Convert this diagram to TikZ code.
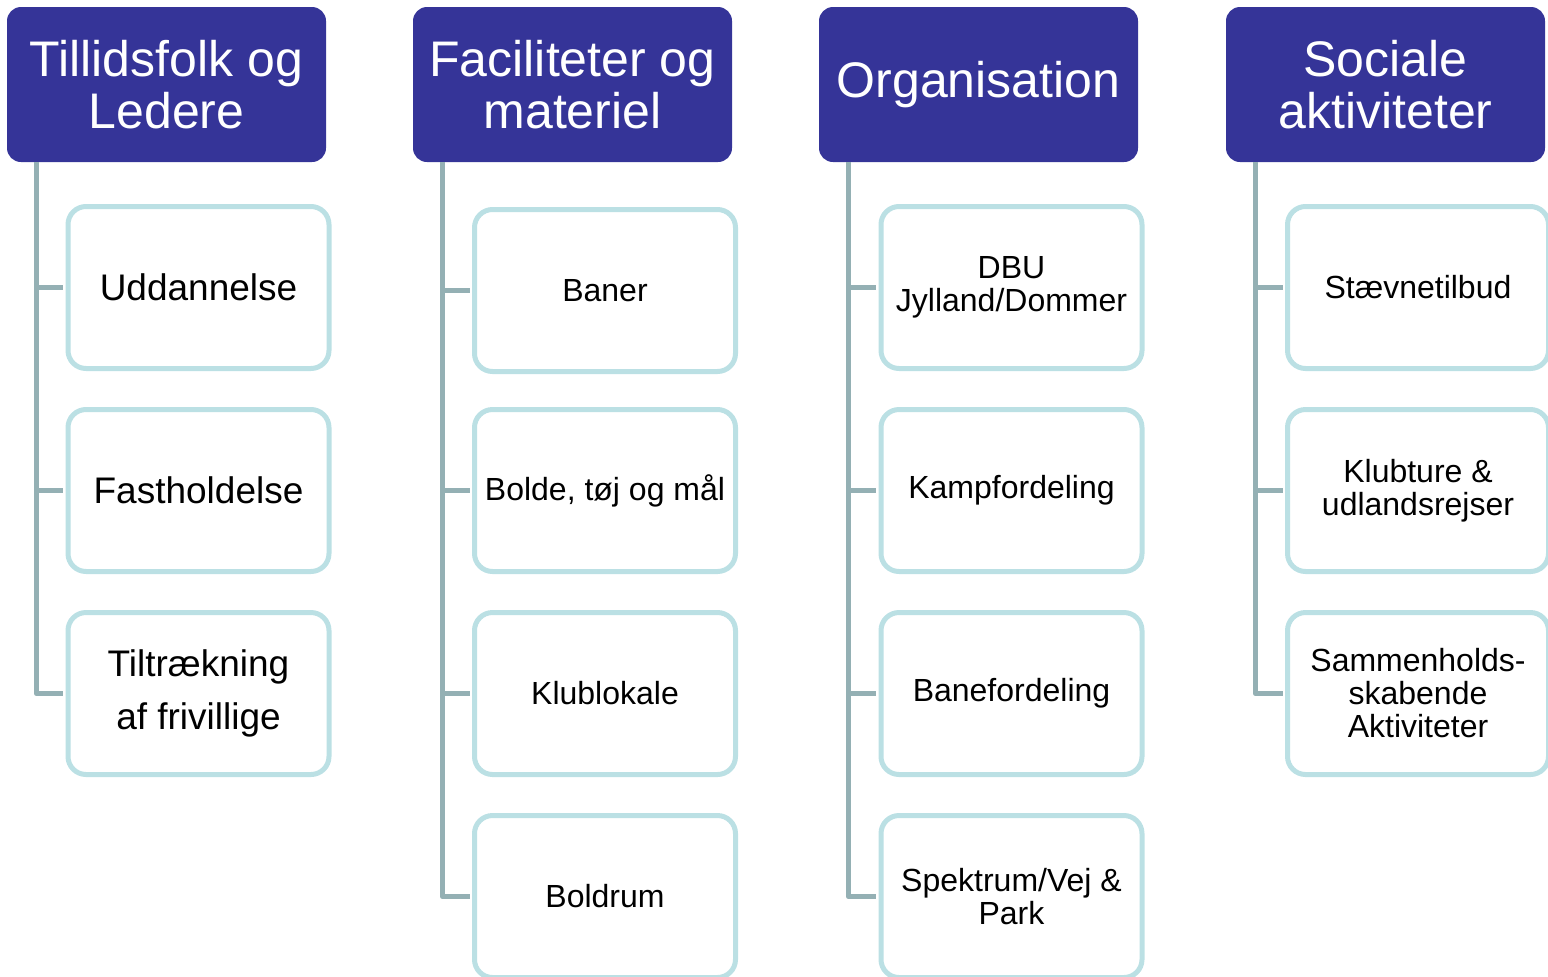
\documentclass[tikz,border=0pt]{standalone}
\usepackage{fontspec}
\setmainfont{Liberation Sans}
\definecolor{hdrblue}{RGB}{53,52,152}
\definecolor{boxline}{RGB}{187,224,228}
\definecolor{linkgray}{RGB}{148,176,180}
\begin{document}
\begin{tikzpicture}[x=0.5pt,y=-0.5pt,
  hdr/.style={rectangle, rounded corners=7pt, fill=hdrblue, text=white, minimum width=159.5pt, minimum height=77.5pt, align=center, font=\fontsize{25}{26}\selectfont},
  sub/.style={rectangle, rounded corners=9pt, draw=boxline, line width=2.5pt, fill=white, minimum width=130.5pt, minimum height=81pt, align=center, font=\fontsize{16}{16.5}\selectfont},
  bigsub/.style={sub, font=\fontsize{18.5}{26.5}\selectfont},
  link/.style={draw=linkgray, line width=2.8pt, line join=round}]
\clip (0,0) rectangle (1548,976);
% headers
\node[hdr] (h1) at (166.5,84.5){Tillidsfolk og\\Ledere};
\node[hdr] (h2) at (572.5,84.5){Faciliteter og\\materiel};
\node[hdr] (h3) at (978.5,84.5){Organisation};
\node[hdr] (h4) at (1385.5,84.5){Sociale\\aktiviteter};
% column 1
\node[bigsub] (c11) at (198.5,287.5){Uddannelse};
\node[bigsub] (c12) at (198.5,490.5){Fastholdelse};
\node[bigsub] (c13) at (198.5,693.5){Tiltrækning\\af frivillige};
\draw[link] ([xshift=15pt]h1.south west) |- ([xshift=-1.25pt]c11.west);
\draw[link] ([xshift=15pt]h1.south west) |- ([xshift=-1.25pt]c12.west);
\draw[link] ([xshift=15pt]h1.south west) |- ([xshift=-1.25pt]c13.west);
% column 2
\node[sub] (c21) at (605,290.5){Baner};
\node[sub] (c22) at (605,490.5){Bolde, tøj og mål};
\node[sub] (c23) at (605,693.5){Klublokale};
\node[sub] (c24) at (605,896.5){Boldrum};
\draw[link] ([xshift=15pt]h2.south west) |- ([xshift=-1.25pt]c21.west);
\draw[link] ([xshift=15pt]h2.south west) |- ([xshift=-1.25pt]c22.west);
\draw[link] ([xshift=15pt]h2.south west) |- ([xshift=-1.25pt]c23.west);
\draw[link] ([xshift=15pt]h2.south west) |- ([xshift=-1.25pt]c24.west);
% column 3
\node[sub] (c31) at (1011.5,287.5){DBU\\Jylland/Dommer};
\node[sub] (c32) at (1011.5,490.5){Kampfordeling};
\node[sub] (c33) at (1011.5,693.5){Banefordeling};
\node[sub] (c34) at (1011.5,896.5){Spektrum/Vej \&\\Park};
\draw[link] ([xshift=15pt]h3.south west) |- ([xshift=-1.25pt]c31.west);
\draw[link] ([xshift=15pt]h3.south west) |- ([xshift=-1.25pt]c32.west);
\draw[link] ([xshift=15pt]h3.south west) |- ([xshift=-1.25pt]c33.west);
\draw[link] ([xshift=15pt]h3.south west) |- ([xshift=-1.25pt]c34.west);
% column 4
\node[sub] (c41) at (1418,287.5){Stævnetilbud};
\node[sub] (c42) at (1418,490.5){Klubture \&\\udlandsrejser};
\node[sub] (c43) at (1418,693.5){Sammenholds-\\skabende\\Aktiviteter};
\draw[link] ([xshift=15pt]h4.south west) |- ([xshift=-1.25pt]c41.west);
\draw[link] ([xshift=15pt]h4.south west) |- ([xshift=-1.25pt]c42.west);
\draw[link] ([xshift=15pt]h4.south west) |- ([xshift=-1.25pt]c43.west);
\end{tikzpicture}
\end{document}
